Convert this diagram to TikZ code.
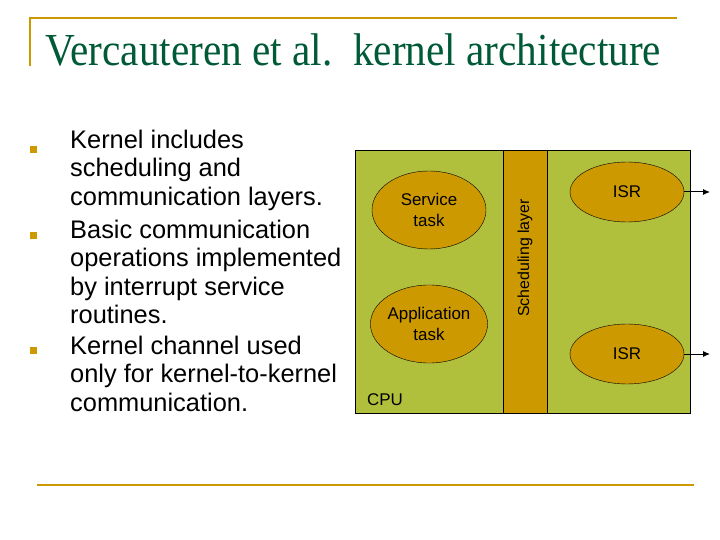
\documentclass[tikz,border=0pt]{standalone}
\usepackage{fontspec}
\setmainfont{Liberation Serif}
\setsansfont{Liberation Sans}
\usetikzlibrary{shapes.geometric, positioning, arrows.meta}
\definecolor{olive}{RGB}{176,192,60}
\definecolor{gold}{RGB}{204,153,0}
\definecolor{titlegreen}{RGB}{0,90,55}
\tikzset{
  task/.style={ellipse, draw=black, line width=0.4pt, fill=gold, inner sep=0pt,
    font=\sffamily\fontsize{17}{21}\selectfont, align=center},
  bullet/.style={fill=gold, minimum size=7bp, inner sep=0pt},
  item/.style={anchor=north west, align=left, inner sep=0pt,
    font=\sffamily\fontsize{25.5}{28.4}\selectfont}
}
\begin{document}
\begin{tikzpicture}[x=1bp, y=-1bp]
      %► Page frame
      \useasboundingbox (0,0) rectangle (720,540);
      \fill[white] (0,0) rectangle (720,540);

      %► Title and rules
      \draw[gold, line width=2.5bp] (30,66) -- (30,18) -- (677,18);
      \draw[gold, line width=2.5bp] (37,485) -- (694,485);
      \node[anchor=base west, inner sep=0pt, text=titlegreen, xscale=0.9,
        font=\fontsize{46}{50}\selectfont] (title) at (45,66) {Vercauteren et al.\ \ kernel architecture};

      %► Bullet list
      \node[bullet] (b1) at (33,150) {};
      \node[bullet] (b2) at (33,236) {};
      \node[bullet] (b3) at (33,350) {};
      \node[item] (t1) at (70,130) {Kernel includes\\scheduling and\\communication layers.};
      \node[item] (t2) at (70,220) {Basic communication\\operations implemented\\by interrupt service\\routines.};
      \node[item] (t3) at (70,336) {Kernel channel used\\only for kernel-to-kernel\\communication.};

      %► CPU box and scheduling layer
      \draw[fill=olive, line width=0.5bp] (355,150) rectangle (690,413);
      \draw[fill=gold, line width=0.5bp] (503,150) rectangle (547,413);
      \node[rotate=90, font=\sffamily\fontsize{16}{18}\selectfont] (sched) at (525,258) {Scheduling layer};
      \node[anchor=base west, font=\sffamily\fontsize{17}{19}\selectfont, inner sep=0pt] (cpu) at (367,405) {CPU};

      %► Tasks and ISRs
      \node[task, minimum width=114bp, minimum height=78bp] (service) at (429,210) {Service\\task};
      \node[task, minimum width=114bp, minimum height=78bp] (app) at (429,324) {Application\\task};
      \node[task, minimum width=114bp, minimum height=60bp] (isr1) at (627,192) {ISR};
      \node[task, minimum width=114bp, minimum height=60bp] (isr2) at (627,354) {ISR};

      %► Outgoing arrows
      \coordinate (o1) at (710,192);
      \coordinate (o2) at (710,354);
      \draw[-{Latex[length=7bp,width=6bp]}, line width=1bp] (isr1.east) -- (o1);
      \draw[-{Latex[length=7bp,width=6bp]}, line width=1bp] (isr2.east) -- (o2);
\end{tikzpicture}
\end{document}
